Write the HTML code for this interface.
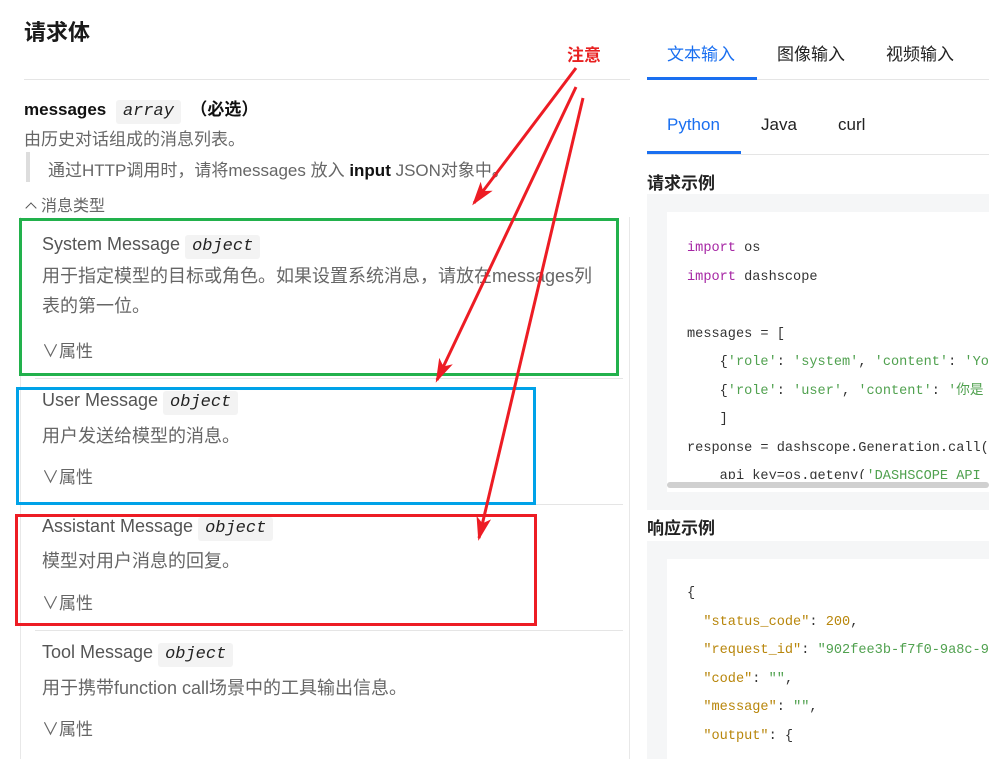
<!DOCTYPE html>
<html><head><meta charset="utf-8"><style>
*{margin:0;padding:0;box-sizing:border-box}
body{width:989px;height:759px;background:#fff;position:relative;overflow:hidden;font-family:"Liberation Sans","Noto Sans CJK SC",sans-serif;color:#333}
.a{position:absolute;white-space:nowrap}
.t{font-size:18px;color:#555}
.d{font-size:17px;color:#666}
.code{font-family:"Liberation Mono","Noto Sans CJK SC",monospace;font-size:13.6px;color:#333}
.tag{display:inline-block;background:#f3f3f3;border-radius:3px;padding:0 7px;font-family:"Liberation Mono",monospace;font-style:italic;color:#222;font-size:17px;line-height:24px;margin-left:5px}
.k{color:#a626a4}.s{color:#50a14f}.y{color:#b8860b}
.hl{position:absolute;height:1px;background:#e5e5e5}
</style></head><body>
<div class="a" style="left:24px;top:15px;font-size:22px;font-weight:bold;color:#1a1a1a">请求体</div>
<div class="a" style="left:567px;top:41px;font-size:17px;font-weight:bold;color:#e82020">注意</div>
<div class="hl" style="left:24px;top:79px;width:606px"></div>
<div class="a" style="left:24px;top:95px;font-size:17px;font-weight:bold;color:#111">messages <span class="tag" style="font-weight:normal">array</span> &nbsp;（必选）</div>
<div class="a d" style="left:24px;top:125px">由历史对话组成的消息列表。</div>
<div class="a" style="left:26px;top:152px;width:4px;height:30px;background:#ddd"></div>
<div class="a d" style="left:48px;top:156px">通过HTTP调用时，请将messages 放入 <b style="color:#111">input</b> JSON对象中。</div>
<div class="a" style="left:24px;top:192px;font-size:16px;color:#666"><span style="display:inline-block;width:8px;height:8px;border-left:1.5px solid #555;border-top:1.5px solid #555;transform:rotate(45deg);margin:0 6px 0 3px;vertical-align:-1px"></span>消息类型</div>
<div class="a" style="left:20px;top:217px;width:1px;height:542px;background:#e8e8e8"></div>
<div class="a" style="left:629px;top:217px;width:1px;height:542px;background:#e8e8e8"></div>
<div class="hl" style="left:35px;top:378px;width:588px"></div>
<div class="hl" style="left:35px;top:504px;width:588px"></div>
<div class="hl" style="left:35px;top:630px;width:588px"></div>

<div class="a t" style="left:42px;top:234px">System Message<span class="tag">object</span></div>
<div class="a d" style="left:42px;top:261px;line-height:30px;font-size:18px">用于指定模型的目标或角色。如果设置系统消息，请放在messages列<br>表的第一位。</div>
<div class="a d" style="left:42px;top:337px">∨属性</div>

<div class="a t" style="left:42px;top:390px">User Message<span class="tag">object</span></div>
<div class="a d" style="left:42px;top:422px;font-size:18px">用户发送给模型的消息。</div>
<div class="a d" style="left:42px;top:463px">∨属性</div>

<div class="a t" style="left:42px;top:516px">Assistant Message<span class="tag">object</span></div>
<div class="a d" style="left:42px;top:547px;font-size:18px">模型对用户消息的回复。</div>
<div class="a d" style="left:42px;top:589px">∨属性</div>

<div class="a t" style="left:42px;top:642px">Tool Message<span class="tag">object</span></div>
<div class="a d" style="left:42px;top:674px;font-size:18px">用于携带function call场景中的工具输出信息。</div>
<div class="a d" style="left:42px;top:715px">∨属性</div>

<div class="a" style="left:19px;top:218px;width:600px;height:158px;border:3px solid #22b14c"></div>
<div class="a" style="left:16px;top:387px;width:520px;height:118px;border:3px solid #00a2e8"></div>
<div class="a" style="left:15px;top:514px;width:522px;height:112px;border:3px solid #ed1c24"></div>

<!-- right -->
<div class="a" style="left:667px;top:40px;font-size:17px;color:#1a6ff0">文本输入</div>
<div class="a" style="left:777px;top:40px;font-size:17px;color:#222">图像输入</div>
<div class="a" style="left:886px;top:40px;font-size:17px;color:#222">视频输入</div>
<div class="hl" style="left:647px;top:79px;width:342px"></div>
<div class="a" style="left:647px;top:77px;width:110px;height:3px;background:#1a6ff0"></div>
<div class="a" style="left:667px;top:115px;font-size:17px;color:#1a6ff0">Python</div>
<div class="a" style="left:761px;top:115px;font-size:17px;color:#222">Java</div>
<div class="a" style="left:838px;top:115px;font-size:17px;color:#222">curl</div>
<div class="hl" style="left:647px;top:154px;width:342px"></div>
<div class="a" style="left:647px;top:151px;width:94px;height:3px;background:#1a6ff0"></div>
<div class="a" style="left:647px;top:169px;font-size:17px;font-weight:bold;color:#222">请求示例</div>
<div class="a" style="left:647px;top:194px;width:342px;height:316px;background:#f5f6f7"></div>
<div class="a" style="left:667px;top:212px;width:322px;height:280px;background:#fff"></div>
<div class="a" style="left:667px;top:482px;width:322px;height:6px;background:#d0d0d0;border-radius:3px"></div>
<div class="a code" style="left:687px;top:235px;line-height:28.5px;height:244px;overflow:hidden">
<span class="k">import</span> os<br><span class="k">import</span> dashscope<br><br>messages = [<br>&nbsp;&nbsp;&nbsp;&nbsp;{<span class="s">'role'</span>: <span class="s">'system'</span>, <span class="s">'content'</span>: <span class="s">'Yo</span><br>&nbsp;&nbsp;&nbsp;&nbsp;{<span class="s">'role'</span>: <span class="s">'user'</span>, <span class="s">'content'</span>: <span class="s">'你是</span><br>&nbsp;&nbsp;&nbsp;&nbsp;]<br>response = dashscope.Generation.call(<br>&nbsp;&nbsp;&nbsp;&nbsp;api_key=os.getenv(<span class="s">'DASHSCOPE_API</span></div>
<div class="a" style="left:647px;top:514px;font-size:17px;font-weight:bold;color:#222">响应示例</div>
<div class="a" style="left:647px;top:541px;width:342px;height:218px;background:#f5f6f7"></div>
<div class="a" style="left:667px;top:559px;width:322px;height:200px;background:#fff"></div>
<div class="a code" style="left:687px;top:580px;line-height:28.5px">
{<br>&nbsp;&nbsp;<span class="y">"status_code"</span>: <span class="y">200</span>,<br>&nbsp;&nbsp;<span class="y">"request_id"</span>: <span class="s">"902fee3b-f7f0-9a8c-9</span><br>&nbsp;&nbsp;<span class="y">"code"</span>: <span class="s">""</span>,<br>&nbsp;&nbsp;<span class="y">"message"</span>: <span class="s">""</span>,<br>&nbsp;&nbsp;<span class="y">"output"</span>: {</div>

<svg class="a" style="left:0;top:0" width="989" height="759">
<defs><marker id="m" markerWidth="8" markerHeight="5" refX="7" refY="2.5" orient="auto" markerUnits="strokeWidth"><path d="M0,0 L8,2.5 L0,5 L2,2.5 Z" fill="#ed1c24"/></marker></defs>
<g stroke="#ed1c24" stroke-width="3" fill="none" marker-end="url(#m)">
<line x1="576" y1="68" x2="474" y2="203"/>
<line x1="576" y1="87" x2="437" y2="380"/>
<line x1="583" y1="98" x2="479" y2="538"/>
</g></svg>
</body></html>
